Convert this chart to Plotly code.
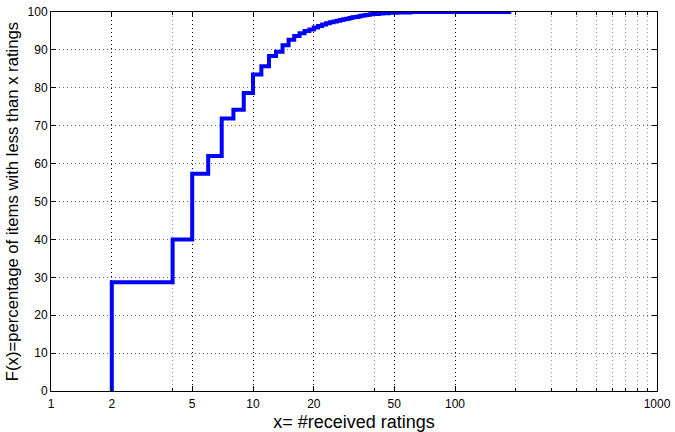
import plotly.graph_objects as go

# Number of received ratings (x) and cumulative percentage of items (F(x))
ratings = [2, 2, 4, 5, 6, 7, 8, 9, 10, 11, 12, 13, 14, 15, 16, 17, 18, 19, 20,
           21, 22, 23, 24, 25, 26, 27, 28, 29, 30, 31, 32, 33, 34, 35, 36, 37,
           38, 39, 40, 42, 44, 47, 52, 60, 190]
percent = [0, 28.7, 40.0, 57.3, 62.0, 71.9, 74.2, 78.6, 83.5, 85.7, 88.4, 89.5,
           91.2, 92.7, 93.7, 94.4, 95.0, 95.4, 95.9,
           96.3, 96.7, 97.0, 97.3, 97.5, 97.7, 97.9, 98.1, 98.2, 98.4, 98.6,
           98.7, 98.8, 99.0, 99.1, 99.2, 99.3, 99.4, 99.45, 99.5, 99.6, 99.7,
           99.8, 99.9, 100.0, 100.0]

x_ticks = [1, 2, 5, 10, 20, 50, 100, 1000]
x_minor = [4, 40, 200, 300, 400, 500, 600, 700, 800, 900]
y_ticks = list(range(0, 101, 10))

font_family = "Liberation Sans, Arial, sans-serif"

fig = go.Figure()
fig.add_trace(go.Scatter(
    x=ratings, y=percent, mode="lines", line_shape="hv",
    line=dict(color="#0000FF", width=4), showlegend=False,
))

fig.update_layout(
    width=675, height=432,
    margin=dict(l=51, r=18, t=12, b=41),
    plot_bgcolor="white", paper_bgcolor="white",
    font=dict(family=font_family, size=12, color="black"),
)

fig.update_xaxes(
    type="log", range=[0, 3], automargin=False,
    tickmode="array", tickvals=x_ticks, ticktext=[str(v) for v in x_ticks],
    ticks="inside", ticklen=5, tickwidth=1, tickcolor="black",
    ticklabelstandoff=2,
    showline=True, linecolor="black", linewidth=1, mirror="allticks",
    showgrid=True, gridcolor="black", gridwidth=1, griddash="1px,3px",
    minor=dict(tickmode="array", tickvals=x_minor, ticks="inside", ticklen=3,
               tickcolor="black", showgrid=True, gridcolor="#999999",
               griddash="1px,3px", gridwidth=1),
    zeroline=False,
    title=dict(text="x= #received ratings", font=dict(size=18), standoff=7),
)

fig.update_yaxes(
    range=[0, 100], automargin=False,
    tickmode="array", tickvals=y_ticks,
    ticks="inside", ticklen=5, tickwidth=1, tickcolor="black",
    showline=True, linecolor="black", linewidth=1, mirror="ticks",
    showgrid=True, gridcolor="#666666", gridwidth=1, griddash="1px,3px",
    zeroline=False,
    title=dict(text="F(x)=percentage of items with less than x ratings",
               font=dict(size=16.7), standoff=4),
)

fig.write_html("out.html")
